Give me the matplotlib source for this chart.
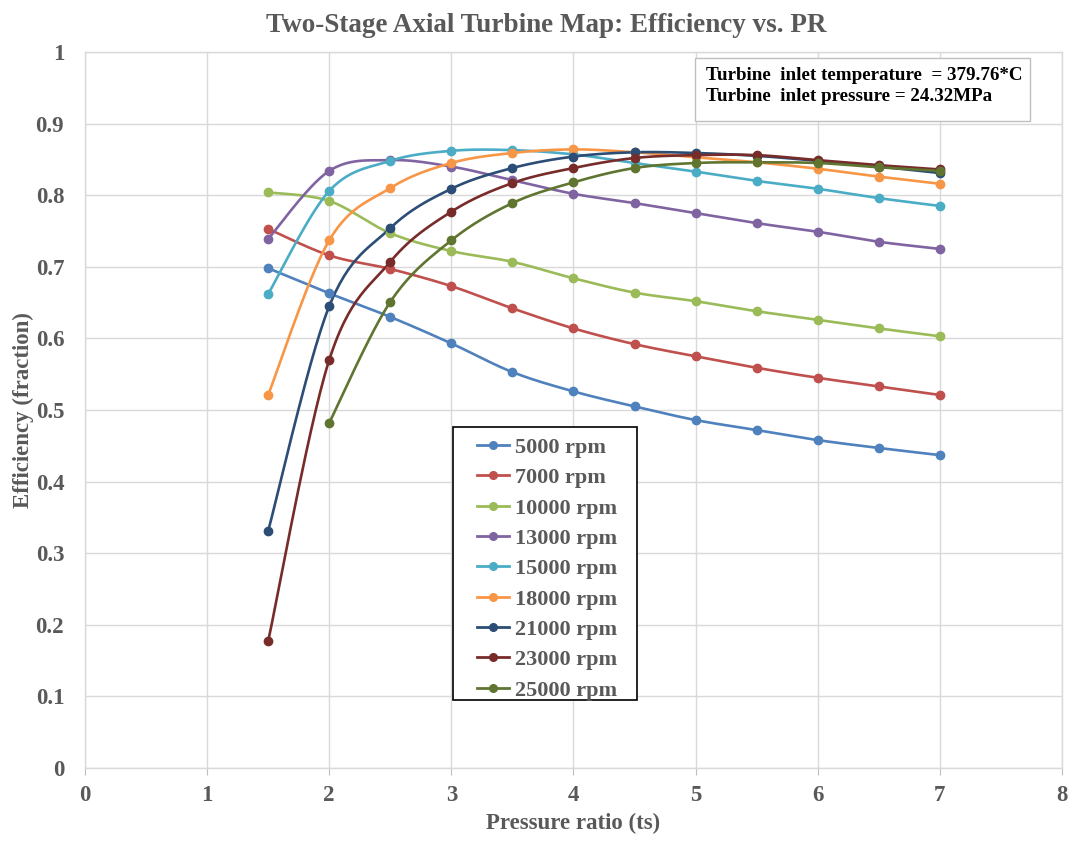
import numpy as np
import matplotlib
matplotlib.use("Agg")
import matplotlib.pyplot as plt
from matplotlib.lines import Line2D
from matplotlib.patches import Rectangle

# ---- data ----
pr = [1.5, 2.0, 2.5, 3.0, 3.5, 4.0, 4.5, 5.0, 5.5, 6.0, 6.5, 7.0]
pr_25000 = [2.0, 2.5, 3.0, 3.5, 4.0, 4.5, 5.0, 5.5, 6.0, 6.5, 7.0]

eff_5000 = [0.698, 0.663, 0.630, 0.593, 0.553, 0.526, 0.505, 0.486, 0.472, 0.458, 0.447, 0.437]
eff_7000 = [0.753, 0.716, 0.697, 0.673, 0.642, 0.614, 0.592, 0.575, 0.559, 0.545, 0.533, 0.521]
eff_10000 = [0.804, 0.792, 0.747, 0.722, 0.707, 0.684, 0.664, 0.652, 0.638, 0.626, 0.614, 0.603]
eff_13000 = [0.739, 0.834, 0.849, 0.840, 0.821, 0.802, 0.789, 0.775, 0.761, 0.749, 0.735, 0.725]
eff_15000 = [0.662, 0.806, 0.848, 0.862, 0.863, 0.857, 0.845, 0.833, 0.820, 0.809, 0.796, 0.785]
eff_18000 = [0.521, 0.737, 0.810, 0.845, 0.859, 0.864, 0.860, 0.853, 0.846, 0.837, 0.826, 0.816]
eff_21000 = [0.331, 0.645, 0.754, 0.809, 0.838, 0.854, 0.860, 0.859, 0.855, 0.848, 0.840, 0.831]
eff_23000 = [0.177, 0.570, 0.707, 0.777, 0.817, 0.838, 0.852, 0.856, 0.856, 0.849, 0.842, 0.836]
eff_25000 = [0.482, 0.651, 0.737, 0.789, 0.818, 0.838, 0.845, 0.846, 0.845, 0.839, 0.834]

labels = ["5000 rpm", "7000 rpm", "10000 rpm", "13000 rpm", "15000 rpm",
          "18000 rpm", "21000 rpm", "23000 rpm", "25000 rpm"]
colors = ["#4F81BD", "#C0504D", "#9BBB59", "#8064A2", "#4BACC6",
          "#F79646", "#2C4D75", "#772C2A", "#5F7530"]

series = [(pr, eff_5000), (pr, eff_7000), (pr, eff_10000), (pr, eff_13000),
          (pr, eff_15000), (pr, eff_18000), (pr, eff_21000), (pr, eff_23000),
          (pr_25000, eff_25000)]

title = "Two-Stage Axial Turbine Map: Efficiency vs. PR"
info_lines = ["Turbine  inlet temperature  = 379.76*C",
              "Turbine  inlet pressure = 24.32MPa"]


def smooth(x, y, n=30):
    """Catmull-Rom style Bezier smoothing (like Excel smoothed lines)."""
    P = np.column_stack([np.asarray(x, float), np.asarray(y, float)])
    m = len(P)
    out = [P[0]]
    t = np.linspace(0, 1, n)[1:]
    for i in range(m - 1):
        p0 = P[i - 1] if i > 0 else P[i]
        p1 = P[i]
        p2 = P[i + 1]
        p3 = P[i + 2] if i + 2 < m else P[i + 1]
        c1 = p1 + (p2 - p0) / 6.0
        c2 = p2 - (p3 - p1) / 6.0
        for tt in t:
            out.append(((1 - tt) ** 3) * p1 + 3 * ((1 - tt) ** 2) * tt * c1
                       + 3 * (1 - tt) * tt ** 2 * c2 + tt ** 3 * p2)
    out = np.array(out)
    return out[:, 0], out[:, 1]


serif = ["Liberation Serif", "DejaVu Serif"]
txtcol = "#595959"

fig = plt.figure(figsize=(10.73, 8.42), dpi=100)
ax = fig.add_axes([0.0792, 0.0879, 0.9105, 0.8503])

for (xs, ys), c in zip(series, colors):
    sx, sy = smooth(xs, ys)
    ax.plot(sx, sy, color=c, lw=1.9, solid_capstyle="round", zorder=3)
    ax.plot(xs, ys, "o", color=c, ms=6.0, zorder=4)

ax.set_xlim(0, 8)
ax.set_ylim(0, 1)
ax.set_xticks(range(0, 9))
ax.set_yticks(np.round(np.arange(0, 1.01, 0.1), 1))
ax.set_yticklabels(["0", "0.1", "0.2", "0.3", "0.4", "0.5", "0.6", "0.7", "0.8", "0.9", "1"])
ax.grid(True, color="#D9D9D9", lw=1.0, zorder=0)
for s in ax.spines.values():
    s.set_color("#D9D9D9")
    s.set_linewidth(1.0)
ax.tick_params(axis="x", length=5, color="#BFBFBF", pad=7)
ax.tick_params(axis="y", length=0, pad=15)
for lbl in ax.get_xticklabels() + ax.get_yticklabels():
    lbl.set_fontfamily(serif)
    lbl.set_fontweight("bold")
    lbl.set_fontsize(16.5)
    lbl.set_color(txtcol)

ax.set_xlabel("Pressure ratio (ts)", fontfamily=serif, fontweight="bold",
              fontsize=16.5, color=txtcol)
ax.xaxis.set_label_coords(0.5, -0.063)
ax.set_ylabel("Efficiency (fraction)", fontfamily=serif, fontweight="bold",
              fontsize=16.5, color=txtcol)
ax.yaxis.set_label_coords(-0.052, 0.5)
fig.suptitle(title, x=0.509, y=0.985,
             fontfamily=serif, fontweight="bold", fontsize=19.5, color=txtcol)

# legend (frame drawn separately)
handles = [Line2D([0], [0], color=c, lw=2, marker="o", ms=5.5) for c in colors]
leg = ax.legend(handles, labels, loc="upper left", bbox_to_anchor=(0.4013, 0.4618),
                prop={"family": serif, "weight": "bold", "size": 16},
                frameon=False, handlelength=1.45, labelspacing=0.44,
                borderpad=0, handletextpad=0.25, borderaxespad=0)
for t in leg.get_texts():
    t.set_color(txtcol)
leg.set_zorder(6)
ax.add_patch(Rectangle((0.3767, 0.095), 0.565 - 0.3767, 0.476 - 0.095,
                       transform=ax.transAxes, fc="white", ec="#000000",
                       lw=1.2, zorder=5))

# info box
ax.add_patch(Rectangle((0.6244, 0.9036), 0.9672 - 0.6244, 0.9916 - 0.9036,
                       transform=ax.transAxes, fc="white", ec="#BFBFBF",
                       lw=1.0, zorder=5))
for line, yy in zip(info_lines, [0.9679, 0.9372]):
    ax.text(0.6356, yy, line, transform=ax.transAxes, ha="left", va="center",
            fontfamily=serif, fontweight="bold", fontsize=13.7,
            color="#000000", zorder=6)

fig.savefig("out.png", dpi=100)
